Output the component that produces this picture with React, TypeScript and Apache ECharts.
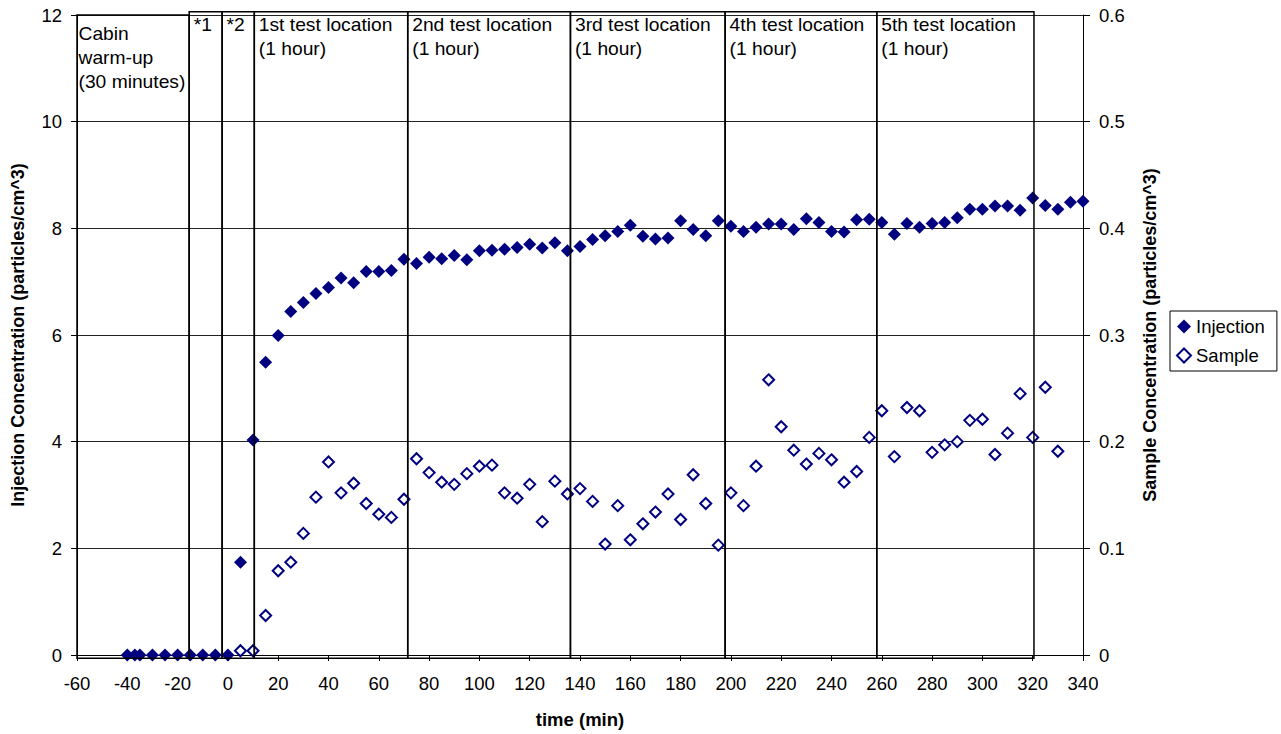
import React, { useEffect, useRef } from "react";
import * as echarts from "echarts";

const injectionTimes = [
  -40, -37, -35, -30, -25, -20, -15, -10, -5, 0, 5, 10, 15, 20, 25, 30, 35, 40, 45, 50,
  55, 60, 65, 70, 75, 80, 85, 90, 95, 100, 105, 110, 115, 120, 125, 130, 135, 140, 145, 150,
  155, 160, 165, 170, 175, 180, 185, 190, 195, 200, 205, 210, 215, 220, 225, 230, 235, 240, 245, 250,
  255, 260, 265, 270, 275, 280, 285, 290, 295, 300, 305, 310, 315, 320, 325, 330, 335, 340,
];
const injectionValues = [
  0, 0, 0, 0, 0, 0, 0, 0, 0, 0, 1.74, 4.03, 5.49, 5.99, 6.44, 6.61, 6.78, 6.89, 7.07, 6.98,
  7.19, 7.19, 7.21, 7.42, 7.34, 7.46, 7.43, 7.49, 7.41, 7.58, 7.59, 7.61, 7.64, 7.7, 7.63, 7.73, 7.58, 7.66, 7.79, 7.86,
  7.94, 8.06, 7.85, 7.8, 7.82, 8.14, 7.98, 7.86, 8.14, 8.04, 7.94, 8.02, 8.08, 8.08, 7.98, 8.18, 8.11, 7.94, 7.93, 8.16,
  8.17, 8.11, 7.89, 8.09, 8.02, 8.09, 8.11, 8.2, 8.36, 8.36, 8.42, 8.42, 8.34, 8.57, 8.43, 8.36, 8.49, 8.51,
];

const sampleTimes = [
  5, 10, 15, 20, 25, 30, 35, 40, 45, 50, 55, 60, 65, 70, 75, 80, 85, 90, 95, 100,
  105, 110, 115, 120, 125, 130, 135, 140, 145, 150, 155, 160, 165, 170, 175, 180, 185, 190, 195, 200,
  205, 210, 215, 220, 225, 230, 235, 240, 245, 250, 255, 260, 265, 270, 275, 280, 285, 290, 295, 300,
  305, 310, 315, 320, 325, 330,
];
const sampleValues = [
  0.004, 0.004, 0.037, 0.079, 0.087, 0.114, 0.148, 0.181, 0.152, 0.161, 0.142, 0.132, 0.129, 0.146, 0.184, 0.171, 0.162, 0.16, 0.17, 0.177,
  0.178, 0.152, 0.147, 0.16, 0.125, 0.163, 0.151, 0.156, 0.144, 0.104, 0.14, 0.108, 0.123, 0.134, 0.151, 0.127, 0.169, 0.142, 0.103, 0.152,
  0.14, 0.177, 0.258, 0.214, 0.192, 0.179, 0.189, 0.183, 0.162, 0.172, 0.204, 0.229, 0.186, 0.232, 0.229, 0.19, 0.197, 0.2, 0.22, 0.221,
  0.188, 0.208, 0.245, 0.204, 0.251, 0.191,
];

const boxStarts = [-60, -15.4, -2.3, 10.5, 71.5, 136.2, 197.7, 258];
const boxEnds = [-15.4, -2.3, 10.5, 71.5, 136.2, 197.7, 258, 320.5];
const boxLabels = [
  "Cabin\nwarm-up\n(30 minutes)",
  "*1",
  "*2",
  "1st test location\n(1 hour)",
  "2nd test location\n(1 hour)",
  "3rd test location\n(1 hour)",
  "4th test location\n(1 hour)",
  "5th test location\n(1 hour)",
];

const xTickMin = -60;
const xTickMax = 340;
const leftMax = 12;
const rightMax = 0.6;

export default function App() {
  const ref = useRef<HTMLDivElement>(null);

  useEffect(() => {
    if (!ref.current) return;
    const chart = echarts.init(ref.current, null, { renderer: "svg" });
    const font = "'Liberation Sans', Arial, sans-serif";
    const navy = "#000080";

    chart.setOption({
      animation: false,
      backgroundColor: "#ffffff",
      textStyle: { fontFamily: font, color: "#000" },
      grid: { left: 77, right: 198, top: 15, bottom: 79 },
      xAxis: {
        type: "value",
        min: xTickMin,
        max: xTickMax,
        interval: 20,
        name: "time (min)",
        nameLocation: "middle",
        nameGap: 55,
        nameTextStyle: { fontSize: 18.5, fontWeight: "bold", color: "#000", fontFamily: font },
        axisLine: { onZero: false, lineStyle: { color: "#000", width: 1 } },
        axisTick: { show: true, inside: false, length: 6, lineStyle: { color: "#000" } },
        axisLabel: { fontSize: 18.5, color: "#000", margin: 19, fontFamily: font },
        splitLine: { show: false },
      },
      yAxis: [
        {
          type: "value",
          position: "left",
          min: 0,
          max: leftMax,
          interval: 2,
          name: "Injection Concentration (particles/cm^3)",
          nameLocation: "middle",
          nameGap: 50,
          nameTextStyle: { fontSize: 18, fontWeight: "bold", color: "#000", fontFamily: font },
          axisLine: { show: true, onZero: false, lineStyle: { color: "#000", width: 1 } },
          axisTick: { show: true, inside: false, length: 6, lineStyle: { color: "#000" } },
          axisLabel: { fontSize: 18.5, color: "#000", margin: 15, fontFamily: font },
          splitLine: { show: true, lineStyle: { color: "#222", width: 1 } },
        },
        {
          type: "value",
          position: "right",
          min: 0,
          max: rightMax,
          interval: 0.1,
          name: "Sample Concentration (particles/cm^3)",
          nameLocation: "middle",
          nameGap: 58,
          nameTextStyle: { fontSize: 18, fontWeight: "bold", color: "#000", fontFamily: font },
          axisLine: { show: true, onZero: false, lineStyle: { color: "#000", width: 1 } },
          axisTick: { show: true, inside: false, length: 7, lineStyle: { color: "#000" } },
          axisLabel: { fontSize: 18.5, color: "#000", margin: 16, fontFamily: font },
          splitLine: { show: false },
        },
      ],
      legend: {
        data: ["Injection", "Sample"],
        orient: "vertical",
        left: 1170,
        top: 311,
        padding: [6, 12, 6, 6],
        itemGap: 10,
        itemWidth: 14,
        itemHeight: 14,
        borderColor: "#000",
        borderWidth: 1,
        backgroundColor: "#fff",
        textStyle: { fontSize: 18.5, color: "#000", fontFamily: font },
      },
      series: [
        {
          name: "Injection",
          type: "scatter",
          yAxisIndex: 0,
          symbol: "diamond",
          symbolSize: 13,
          clip: false,
          z: 3,
          itemStyle: { color: navy, opacity: 1 },
          data: injectionTimes.map((t, i) => [t, injectionValues[i]]),
        },
        {
          name: "Sample",
          type: "scatter",
          yAxisIndex: 1,
          symbol: "diamond",
          symbolSize: 11,
          clip: false,
          z: 2,
          itemStyle: { color: "#fff", borderColor: navy, borderWidth: 2, opacity: 1 },
          data: sampleTimes.map((t, i) => [t, sampleValues[i]]),
        },
        {
          name: "boxes",
          type: "custom",
          yAxisIndex: 0,
          clip: false,
          silent: true,
          z: 5,
          encode: { x: [0, 1] },
          data: boxStarts.map((s, i) => [s, boxEnds[i], i]),
          renderItem: (params: any, api: any) => {
            const i = api.value(2);
            const p0 = api.coord([api.value(0), leftMax]);
            const p1 = api.coord([api.value(1), 0]);
            const first = i === 0;
            const top = p0[1] - (first ? 0 : 3.3);
            const bottom = p1[1] + 3.3;
            return {
              type: "group",
              children: [
                {
                  type: "rect",
                  shape: { x: p0[0], y: top, width: p1[0] - p0[0], height: bottom - top },
                  style: { fill: "none", stroke: "#000", lineWidth: 1.5 },
                },
                {
                  type: "text",
                  x: p0[0] + (first ? 1.5 : 4.5),
                  y: top + (first ? 7 : 1),
                  scaleX: 1.1,
                  style: {
                    text: boxLabels[i],
                    fill: "#000",
                    fontSize: 17.5,
                    fontFamily: font,
                    lineHeight: 24,
                    verticalAlign: "top",
                    align: "left",
                  },
                },
              ],
            };
          },
        },
      ],
    });

    return () => {
      chart.dispose();
    };
  }, []);

  return (
    <div
      ref={ref}
      style={{ position: "fixed", left: 0, top: 0, width: 1281, height: 734, background: "#fff" }}
    />
  );
}
